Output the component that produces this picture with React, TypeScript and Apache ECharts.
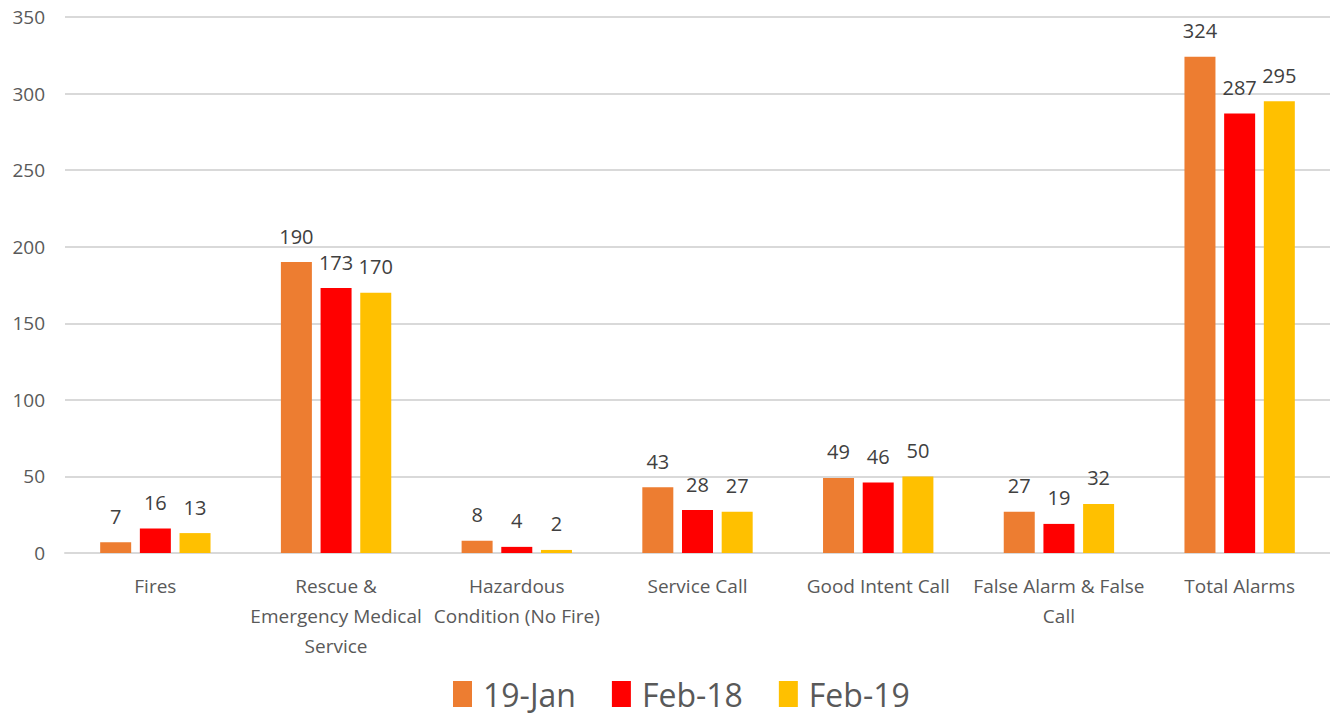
import React, { useEffect, useRef } from "react";
import * as echarts from "echarts";

const categories = [
  "Fires",
  "Rescue &\nEmergency Medical\nService",
  "Hazardous\nCondition (No Fire)",
  "Service Call",
  "Good Intent Call",
  "False Alarm & False\nCall",
  "Total Alarms",
];
const seriesNames = ["19-Jan", "Feb-18", "Feb-19"];
const jan19 = [7, 190, 8, 43, 49, 27, 324];
const feb18 = [16, 173, 4, 28, 46, 19, 287];
const feb19 = [13, 170, 2, 27, 50, 32, 295];
const colors = ["#ED7D31", "#FF0000", "#FFC000"];

const FONT = "'Open Sans', sans-serif";

export default function App() {
  const ref = useRef<HTMLDivElement>(null);
  useEffect(() => {
    const chart = echarts.init(ref.current!, null, { renderer: "svg" });
    const values = [jan19, feb18, feb19];
    chart.setOption({
      animation: false,
      backgroundColor: "#fff",
      textStyle: { fontFamily: FONT },
      grid: { left: 65, right: 0, top: 17, bottom: 164 },
      legend: {
        bottom: 2,
        left: 448,
        itemWidth: 19,
        itemHeight: 26,
        itemGap: 36,
        icon: "rect",
        textStyle: {
          fontSize: 32,
          color: "#595959",
          fontFamily: FONT,
          padding: [0, 0, 0, 6],
        },
        data: seriesNames,
      },
      xAxis: {
        type: "category",
        data: categories,
        axisLine: { lineStyle: { color: "#D9D9D9", width: 2 } },
        axisTick: { show: false },
        axisLabel: {
          color: "#595959",
          fontSize: 19,
          lineHeight: 30,
          margin: 18,
          interval: 0,
          fontFamily: FONT,
        },
      },
      yAxis: {
        type: "value",
        min: 0,
        max: 350,
        interval: 50,
        axisLabel: { color: "#595959", fontSize: 19, margin: 20, fontFamily: FONT },
        splitLine: { lineStyle: { color: "#D9D9D9", width: 2 } },
        axisLine: { show: false },
        axisTick: { show: false },
      },
      series: seriesNames.map((name, i) => ({
        name,
        type: "bar",
        data: values[i],
        barWidth: 31,
        barGap: "28%",
        itemStyle: { color: colors[i] },
        label: {
          show: true,
          position: "top",
          distance: 16,
          color: "#404040",
          fontSize: 20,
          fontFamily: FONT,
        },
      })),
    });
    return () => chart.dispose();
  }, []);
  return (
    <div
      ref={ref}
      style={{ position: "absolute", left: 0, top: 0, width: 1330, height: 717 }}
    />
  );
}
